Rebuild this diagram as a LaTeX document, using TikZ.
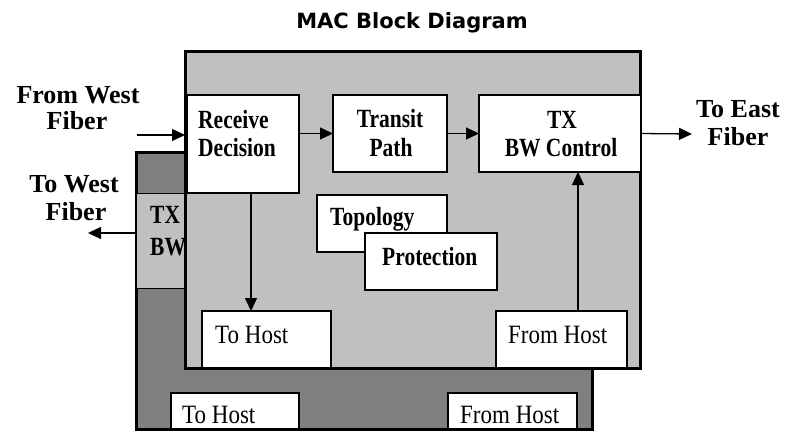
\documentclass[tikz,border=0pt]{standalone}
\usepackage{fontspec}
\setmainfont{Liberation Serif}
\newfontfamily\titlefont{DejaVu Sans}
\usetikzlibrary{arrows.meta}
\definecolor{lightg}{HTML}{C0C0C0}
\definecolor{darkg}{HTML}{808080}
\newcommand\vst[1]{\scalebox{1}[1.22]{#1}}
\newcommand\vsr[1]{\scalebox{1}[1.15]{#1}}
\begin{document}
\begin{tikzpicture}[x=1pt,y=-1pt,
  box/.style={draw=black,line width=1.4pt,fill=white,anchor=north west,inner sep=0pt,outer sep=0pt},
  frame/.style={draw=black,line width=3pt},
  arr/.style={line width=1.3pt,-{Triangle[length=13pt,width=12pt]}},
  outl/.style={font=\fontsize{26}{30}\selectfont\bfseries,inner sep=0pt,anchor=base},
  bl/.style={font=\fontsize{21.5}{26}\selectfont\bfseries,inner sep=0pt},
  rl/.style={font=\fontsize{23}{27}\selectfont,inner sep=0pt,anchor=base west}]
\useasboundingbox (0,0) rectangle (786,431);
\fill[white] (0,0) rectangle (786,431);

% title
\node[font=\titlefont\bfseries\fontsize{21}{25}\selectfont,inner sep=0pt,anchor=base] (title) at (412,28) {MAC Block Diagram};

% back unit
\node[frame,fill=darkg,anchor=north west,minimum width=455.5pt,minimum height=277.5pt,inner sep=0pt,outer sep=0pt] (back) at (136.5,152) {};
\node[draw=black,line width=1pt,fill=lightg,anchor=north west,minimum width=48.5pt,minimum height=95pt,inner sep=0pt,outer sep=0pt] (txbw) at (136.5,193) {};
\node[bl,anchor=base west] (txbwa) at (150,223) {\vst{TX}};
\node[bl,anchor=base west] (txbwb) at (150,255) {\vst{BW}};
\node[box,minimum width=128pt,minimum height=37pt] (toh2) at (171,393) {};
\node[box,minimum width=129pt,minimum height=37pt] (fh2) at (448,393) {};
\node[rl] (toh2t) at (182,423) {\vsr{To Host}};
\node[rl] (fh2t) at (460,423) {\vsr{From Host}};
\draw[frame] (back.south west) -- (back.south east);

% front unit
\node[frame,fill=lightg,anchor=north west,minimum width=455pt,minimum height=316.5pt,inner sep=0pt,outer sep=0pt] (front) at (185,51.5) {};

\node[box,minimum width=112pt,minimum height=98pt] (recv) at (187,95) {};
\node[box,minimum width=114pt,minimum height=77pt] (trans) at (333,95) {};
\node[box,minimum width=162pt,minimum height=77pt] (tx) at (479,95) {};
\node[box,minimum width=130pt,minimum height=57pt] (topo) at (317,195) {};
\node[box,minimum width=132pt,minimum height=57pt] (prot) at (365,233) {};
\node[box,minimum width=129pt,minimum height=57pt] (toh) at (202,311) {};
\node[box,minimum width=131pt,minimum height=57pt] (fh) at (496,311) {};
\draw[frame] (front.south west) -- (front.south east);

\node[bl,anchor=base west] (recva) at (198,128) {\vst{Receive}};
\node[bl,anchor=base west] (recvb) at (198,156) {\vst{Decision}};
\node[bl,anchor=base] (transa) at (390,127) {\vst{Transit}};
\node[bl,anchor=base] (transb) at (391,156) {\vst{Path}};
\node[bl,anchor=base] (txa) at (562,128) {\vst{TX}};
\node[bl,anchor=base] (txb) at (561,156) {\vst{BW Control}};
\node[bl,anchor=base west] (topot) at (330,225) {\vst{Topology}};
\node[bl,anchor=base west] (prott) at (382,265) {\vst{Protection}};
\node[rl] (toht) at (215,343) {\vsr{To Host}};
\node[rl] (fht) at (508,343) {\vsr{From Host}};

% outside labels
\node[outl] (fwa) at (78,103) {From West};
\node[outl] (fwb) at (77,129) {Fiber};
\node[outl] (twa) at (74,192) {To West};
\node[outl] (twb) at (76,220) {Fiber};
\node[outl] (tea) at (738,117) {To East};
\node[outl] (teb) at (738,145) {Fiber};

% connectors
\coordinate (westin) at (137,135);
\coordinate (westout) at (88,233);
\coordinate (eastout) at (692,134);
\draw[arr] (westin) -- (westin -| front.west);
\draw[arr] (westout -| back.west) -- (westout);
\draw[arr] (recv.east |- trans.west) -- (trans.west);
\draw[arr] (trans.east) -- (tx.west);
\draw[arr] (tx.east) -- (eastout);
\draw[arr] ([xshift=8pt]recv.south) -- ([xshift=8pt]recv.south |- toh.north);
\draw[arr] ([xshift=16.5pt]fh.north) -- ([xshift=16.5pt]fh.north |- tx.south);
\end{tikzpicture}
\end{document}
